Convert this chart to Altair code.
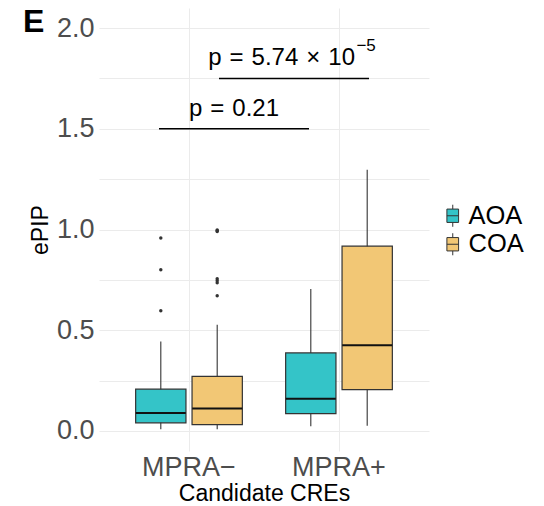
import altair as alt
import pandas as pd

# ---- data ----
categories = ["MPRA−", "MPRA+"]
groups = ["AOA", "COA"]
colors = ["#34C4C8", "#F2C775"]

box_cre = ["MPRA−", "MPRA−", "MPRA+", "MPRA+"]
box_group = ["AOA", "COA", "AOA", "COA"]
lower = [0.008, 0.008, 0.023, 0.026]
q1 = [0.040, 0.031, 0.086, 0.205]
median = [0.089, 0.111, 0.159, 0.425]
q3 = [0.207, 0.271, 0.387, 0.917]
upper = [0.444, 0.527, 0.705, 1.297]

out_cre = ["MPRA−"] * 10
out_group = ["AOA"] * 3 + ["COA"] * 7
out_val = [0.958, 0.800, 0.596, 0.998, 0.994, 0.990, 0.755, 0.745, 0.735, 0.671]

brk_x1 = [0.8, 1.2]
brk_x2 = [1.8, 2.2]
brk_y = [1.5, 1.75]
brk_label = ["p\u2004=\u20040.21", "p\u2004=\u20045.74\u2004×\u200410"]
brk_exp = ["", "−5"]

panel_label = ["E"]
y_ticks = [0, 0.25, 0.5, 0.75, 1.0, 1.25, 1.5, 1.75, 2.0]

FONT = "Liberation Sans"
GRID = "#ebebeb"

boxes = pd.DataFrame(dict(cre=box_cre, group=box_group, lower=lower, q1=q1,
                          median=median, q3=q3, upper=upper))
outs = pd.DataFrame(dict(cre=out_cre, group=out_group, value=out_val))
ann = pd.DataFrame(dict(x1=brk_x1, x2=brk_x2, y=brk_y, label=brk_label, exp=brk_exp))
lab = pd.DataFrame(dict(t=panel_label))

yscale = alt.Scale(domain=[-0.1, 2.1], nice=False, zero=False)
yaxis = alt.Axis(
    title="ePIP", values=y_ticks,
    labelExpr="datum.value % 0.5 == 0 ? format(datum.value, '.1f') : ''",
    labelFontSize=27, labelColor="#4d4d4d", labelPadding=5,
    ticks=False, tickSize=0, domain=False,
    grid=True, gridColor=GRID, gridWidth=1,
    titleFontSize=23, titleColor="black", titleFontWeight="normal",
    titleAngle=270, titleX=-51.3, titleY=221.5, titleAlign="center",
    titleBaseline="alphabetic",
)


def Y(field, **kw):
    return alt.Y(field, scale=yscale, axis=yaxis, **kw)


xscale = alt.Scale(type="band", domain=categories, paddingInner=0, paddingOuter=0.1)
xaxis = alt.Axis(
    title="Candidate CREs", labelAngle=0, labelFontSize=27, labelColor="#4d4d4d",
    labelBaseline="alphabetic", labelPadding=24, ticks=False, tickSize=0,
    domain=False, grid=True, gridColor=GRID, gridWidth=1, bandPosition=0.5,
    titleFontSize=23, titleColor="black", titleFontWeight="normal",
    titleBaseline="alphabetic", titleY=49.5,
)
X = alt.X("cre:N", scale=xscale, axis=xaxis, sort=categories)
XO = alt.XOffset("group:N", sort=groups,
                 scale=alt.Scale(type="band", domain=groups, paddingInner=0.108, paddingOuter=0.384))

whisk = alt.Chart(boxes).mark_rule(color="#333333", strokeWidth=1.1).encode(
    x=X, xOffset=XO, y=Y("lower:Q"), y2="upper:Q")

box = alt.Chart(boxes).mark_bar(stroke="#333333", strokeWidth=1.2, opacity=1).encode(
    x=X, xOffset=XO, y=Y("q1:Q"), y2="q3:Q",
    fill=alt.Fill("group:N", scale=alt.Scale(domain=groups, range=colors),
                  legend=alt.Legend(
                      title=None, orient="none", legendX=341, legendY=195,
                      symbolType="M-0.78,-0.89H0.78V0.89H-0.78Z M-0.78,0H0.78 M0,-0.89V-1.47 M0,0.89V1.47",
                      symbolSize=225, symbolStrokeColor="#333333", symbolStrokeWidth=1,
                      labelFontSize=25.5, labelColor="black", labelOffset=3, rowPadding=0.5,
                      labelFont=FONT)))

med = alt.Chart(boxes).mark_tick(color="#111111", size=50, thickness=2, opacity=1).encode(
    x=X, xOffset=XO, y=Y("median:Q"))

pts = alt.Chart(outs).mark_circle(color="#333333", size=12, opacity=1).encode(
    x=X, xOffset=XO, y=Y("value:Q"))

inner = alt.layer(whisk, box, med, pts)

xq = alt.Scale(domain=[0.4, 2.6], nice=False, zero=False)

brackets = alt.Chart(ann).mark_rule(color="black", strokeWidth=1.6).encode(
    x=alt.X("x1:Q", scale=xq, axis=None), x2="x2:Q", y=Y("y:Q"))

txt1 = alt.Chart(ann).transform_filter("datum.exp == ''").transform_calculate(
    xm="(datum.x1 + datum.x2) / 2").mark_text(
    align="center", baseline="alphabetic", dy=-13.3, fontSize=24, color="black").encode(
    x=alt.X("xm:Q", scale=xq, axis=None), y=Y("y:Q"), text="label:N")

txt2 = alt.Chart(ann).transform_filter("datum.exp != ''").transform_calculate(
    xm="(datum.x1 + datum.x2) / 2").mark_text(
    align="right", baseline="alphabetic", dx=61, dy=-13.3, fontSize=24, color="black").encode(
    x=alt.X("xm:Q", scale=xq, axis=None), y=Y("y:Q"), text="label:N")

txt2e = alt.Chart(ann).transform_filter("datum.exp != ''").transform_calculate(
    xm="(datum.x1 + datum.x2) / 2").mark_text(
    align="left", baseline="alphabetic", dx=62.4, dy=-27.6, fontSize=17, color="black").encode(
    x=alt.X("xm:Q", scale=xq, axis=None), y=Y("y:Q"), text="exp:N")

elabel = alt.Chart(lab).mark_text(
    align="left", baseline="alphabetic", fontSize=32, fontWeight="bold", color="black").encode(
    x=alt.value(-76), y=alt.value(24.3), text="t:N")

chart = alt.layer(inner, brackets, txt1, txt2, txt2e, elabel).resolve_scale(
    x="independent"
).properties(
    width=330, height=443,
    padding={"left": 91, "top": 0, "right": 105, "bottom": 56},
    autosize=alt.AutoSizeParams(type="none"),
).configure(font=FONT).configure_view(stroke=None)

chart.save("out.html", embed_options={"renderer": "svg", "actions": False})
